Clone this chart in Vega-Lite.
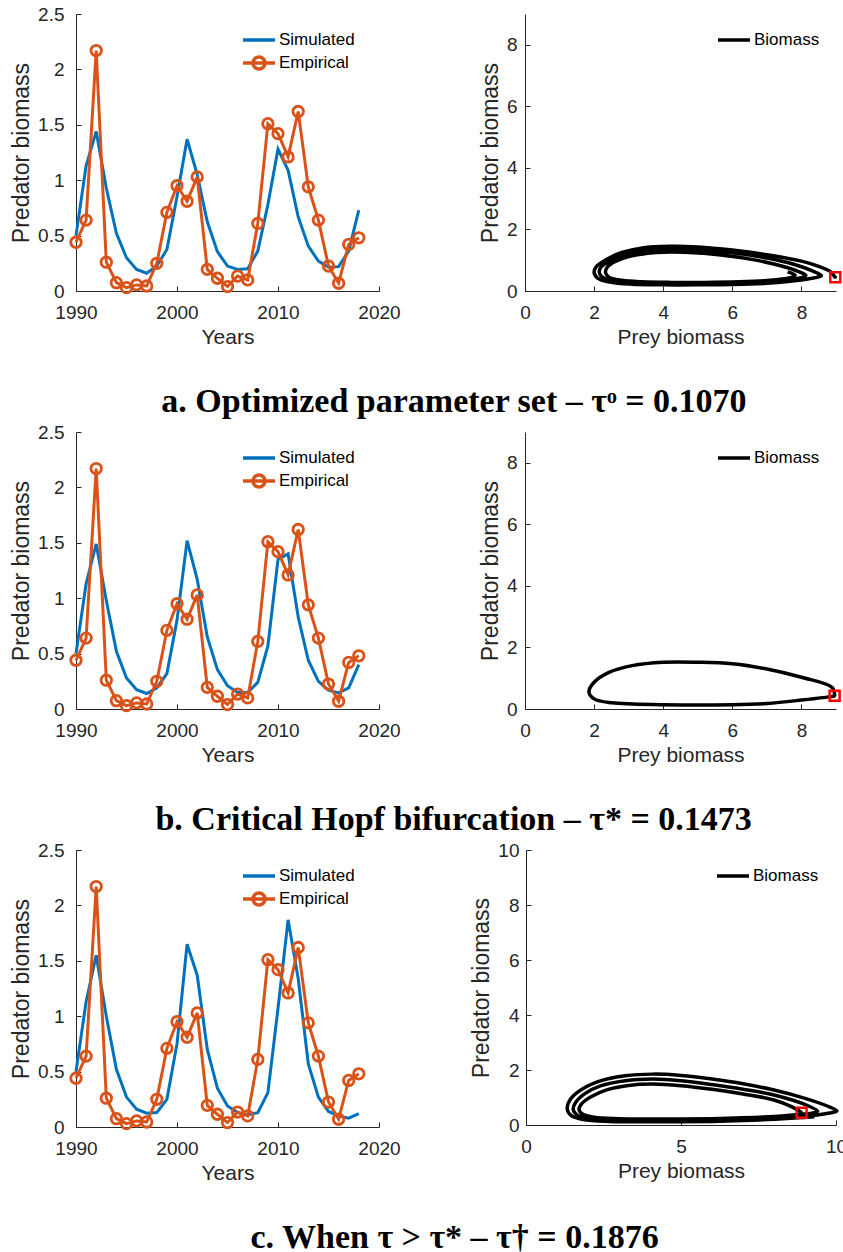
{
  "$schema": "https://vega.github.io/schema/vega-lite/v6.json",
  "background": "white",
  "padding": {"left": 10, "top": 5, "right": 0, "bottom": 0},
  "autosize": {"type": "pad"},
  "config": {
    "view": {"stroke": null},
    "axis": {"labelFont": "Liberation Sans", "titleFont": "Liberation Sans", "labelFontSize": 19, "titleFontWeight": "normal", "labelColor": "#262626", "titleColor": "#262626", "domainColor": "#262626", "tickColor": "#262626", "grid": false, "domainWidth": 1, "tickWidth": 1, "tickSize": -5, "labelFlush": false, "labelFontWeight": "normal", "labelOverlap": false},
    "axisX": {"labelPadding": 17, "titleFontSize": 21, "titlePadding": 4},
    "axisY": {"titleFontSize": 23, "titlePadding": 4},
    "legend": {"labelFont": "Liberation Sans", "labelFontSize": 17, "labelColor": "black", "orient": "none", "title": null, "symbolType": "M-1.6,0L1.6,0", "symbolSize": 400, "symbolStrokeWidth": 3.5, "labelOffset": 8, "rowPadding": 2, "padding": 0, "legendY": 14},
    "title": {"font": "Liberation Serif", "fontSize": 34, "fontWeight": "bold", "color": "black", "orient": "bottom", "anchor": "middle", "frame": "bounds", "offset": 38, "dx": 26}
  },
  "datasets": {
    "emp": [
      {"year": 1990, "value": 0.44, "series": "Empirical"}, {"year": 1991, "value": 0.64, "series": "Empirical"}, {"year": 1992, "value": 2.17, "series": "Empirical"}, {"year": 1993, "value": 0.26, "series": "Empirical"}, {"year": 1994, "value": 0.075, "series": "Empirical"}, {"year": 1995, "value": 0.03, "series": "Empirical"}, {"year": 1996, "value": 0.055, "series": "Empirical"}, {"year": 1997, "value": 0.045, "series": "Empirical"}, {"year": 1998, "value": 0.25, "series": "Empirical"}, {"year": 1999, "value": 0.71, "series": "Empirical"}, {"year": 2000, "value": 0.95, "series": "Empirical"}, {"year": 2001, "value": 0.81, "series": "Empirical"}, {"year": 2002, "value": 1.03, "series": "Empirical"}, {"year": 2003, "value": 0.195, "series": "Empirical"}, {"year": 2004, "value": 0.115, "series": "Empirical"}, {"year": 2005, "value": 0.04, "series": "Empirical"}, {"year": 2006, "value": 0.135, "series": "Empirical"}, {"year": 2007, "value": 0.1, "series": "Empirical"}, {"year": 2008, "value": 0.61, "series": "Empirical"}, {"year": 2009, "value": 1.51, "series": "Empirical"}, {"year": 2010, "value": 1.42, "series": "Empirical"}, {"year": 2011, "value": 1.21, "series": "Empirical"}, {"year": 2012, "value": 1.62, "series": "Empirical"}, {"year": 2013, "value": 0.94, "series": "Empirical"}, {"year": 2014, "value": 0.64, "series": "Empirical"}, {"year": 2015, "value": 0.225, "series": "Empirical"}, {"year": 2016, "value": 0.07, "series": "Empirical"}, {"year": 2017, "value": 0.42, "series": "Empirical"}, {"year": 2018, "value": 0.48, "series": "Empirical"}
    ],
    "simA": [
      {"year": 1990, "value": 0.5, "series": "Simulated"}, {"year": 1991, "value": 1.13, "series": "Simulated"}, {"year": 1992, "value": 1.44, "series": "Simulated"}, {"year": 1993, "value": 0.93, "series": "Simulated"}, {"year": 1994, "value": 0.52, "series": "Simulated"}, {"year": 1995, "value": 0.3, "series": "Simulated"}, {"year": 1996, "value": 0.195, "series": "Simulated"}, {"year": 1997, "value": 0.16, "series": "Simulated"}, {"year": 1998, "value": 0.225, "series": "Simulated"}, {"year": 1999, "value": 0.375, "series": "Simulated"}, {"year": 2000, "value": 0.85, "series": "Simulated"}, {"year": 2001, "value": 1.37, "series": "Simulated"}, {"year": 2002, "value": 1.05, "series": "Simulated"}, {"year": 2003, "value": 0.625, "series": "Simulated"}, {"year": 2004, "value": 0.355, "series": "Simulated"}, {"year": 2005, "value": 0.225, "series": "Simulated"}, {"year": 2006, "value": 0.195, "series": "Simulated"}, {"year": 2007, "value": 0.2, "series": "Simulated"}, {"year": 2008, "value": 0.36, "series": "Simulated"}, {"year": 2009, "value": 0.78, "series": "Simulated"}, {"year": 2010, "value": 1.28, "series": "Simulated"}, {"year": 2011, "value": 1.09, "series": "Simulated"}, {"year": 2012, "value": 0.67, "series": "Simulated"}, {"year": 2013, "value": 0.405, "series": "Simulated"}, {"year": 2014, "value": 0.27, "series": "Simulated"}, {"year": 2015, "value": 0.215, "series": "Simulated"}, {"year": 2016, "value": 0.22, "series": "Simulated"}, {"year": 2017, "value": 0.36, "series": "Simulated"}, {"year": 2018, "value": 0.73, "series": "Simulated"}
    ],
    "simB": [
      {"year": 1990, "value": 0.5, "series": "Simulated"}, {"year": 1991, "value": 1.13, "series": "Simulated"}, {"year": 1992, "value": 1.49, "series": "Simulated"}, {"year": 1993, "value": 0.98, "series": "Simulated"}, {"year": 1994, "value": 0.52, "series": "Simulated"}, {"year": 1995, "value": 0.28, "series": "Simulated"}, {"year": 1996, "value": 0.175, "series": "Simulated"}, {"year": 1997, "value": 0.14, "series": "Simulated"}, {"year": 1998, "value": 0.19, "series": "Simulated"}, {"year": 1999, "value": 0.32, "series": "Simulated"}, {"year": 2000, "value": 0.8, "series": "Simulated"}, {"year": 2001, "value": 1.52, "series": "Simulated"}, {"year": 2002, "value": 1.17, "series": "Simulated"}, {"year": 2003, "value": 0.65, "series": "Simulated"}, {"year": 2004, "value": 0.355, "series": "Simulated"}, {"year": 2005, "value": 0.21, "series": "Simulated"}, {"year": 2006, "value": 0.15, "series": "Simulated"}, {"year": 2007, "value": 0.15, "series": "Simulated"}, {"year": 2008, "value": 0.24, "series": "Simulated"}, {"year": 2009, "value": 0.57, "series": "Simulated"}, {"year": 2010, "value": 1.35, "series": "Simulated"}, {"year": 2011, "value": 1.4, "series": "Simulated"}, {"year": 2012, "value": 0.83, "series": "Simulated"}, {"year": 2013, "value": 0.44, "series": "Simulated"}, {"year": 2014, "value": 0.25, "series": "Simulated"}, {"year": 2015, "value": 0.17, "series": "Simulated"}, {"year": 2016, "value": 0.145, "series": "Simulated"}, {"year": 2017, "value": 0.19, "series": "Simulated"}, {"year": 2018, "value": 0.4, "series": "Simulated"}
    ],
    "simC": [
      {"year": 1990, "value": 0.5, "series": "Simulated"}, {"year": 1991, "value": 1.13, "series": "Simulated"}, {"year": 1992, "value": 1.55, "series": "Simulated"}, {"year": 1993, "value": 1.0, "series": "Simulated"}, {"year": 1994, "value": 0.52, "series": "Simulated"}, {"year": 1995, "value": 0.27, "series": "Simulated"}, {"year": 1996, "value": 0.16, "series": "Simulated"}, {"year": 1997, "value": 0.125, "series": "Simulated"}, {"year": 1998, "value": 0.13, "series": "Simulated"}, {"year": 1999, "value": 0.25, "series": "Simulated"}, {"year": 2000, "value": 0.75, "series": "Simulated"}, {"year": 2001, "value": 1.65, "series": "Simulated"}, {"year": 2002, "value": 1.37, "series": "Simulated"}, {"year": 2003, "value": 0.7, "series": "Simulated"}, {"year": 2004, "value": 0.35, "series": "Simulated"}, {"year": 2005, "value": 0.19, "series": "Simulated"}, {"year": 2006, "value": 0.13, "series": "Simulated"}, {"year": 2007, "value": 0.11, "series": "Simulated"}, {"year": 2008, "value": 0.13, "series": "Simulated"}, {"year": 2009, "value": 0.31, "series": "Simulated"}, {"year": 2010, "value": 1.07, "series": "Simulated"}, {"year": 2011, "value": 1.87, "series": "Simulated"}, {"year": 2012, "value": 1.34, "series": "Simulated"}, {"year": 2013, "value": 0.57, "series": "Simulated"}, {"year": 2014, "value": 0.27, "series": "Simulated"}, {"year": 2015, "value": 0.14, "series": "Simulated"}, {"year": 2016, "value": 0.1, "series": "Simulated"}, {"year": 2017, "value": 0.08, "series": "Simulated"}, {"year": 2018, "value": 0.12, "series": "Simulated"}
    ],
    "phaseA": [
      {"i": 0, "prey": 8.98, "pred": 0.43, "series": "Biomass"}, {"i": 1, "prey": 8.85, "pred": 0.62, "series": "Biomass"}, {"i": 2, "prey": 8.5, "pred": 0.8, "series": "Biomass"}, {"i": 3, "prey": 8.0, "pred": 0.97, "series": "Biomass"}, {"i": 4, "prey": 7.0, "pred": 1.18, "series": "Biomass"}, {"i": 5, "prey": 6.0, "pred": 1.33, "series": "Biomass"}, {"i": 6, "prey": 5.0, "pred": 1.43, "series": "Biomass"}, {"i": 7, "prey": 4.2, "pred": 1.45, "series": "Biomass"}, {"i": 8, "prey": 3.4, "pred": 1.4, "series": "Biomass"}, {"i": 9, "prey": 2.8, "pred": 1.25, "series": "Biomass"}, {"i": 10, "prey": 2.35, "pred": 1.02, "series": "Biomass"}, {"i": 11, "prey": 2.07, "pred": 0.8, "series": "Biomass"}, {"i": 12, "prey": 2.0, "pred": 0.6, "series": "Biomass"}, {"i": 13, "prey": 2.1, "pred": 0.42, "series": "Biomass"}, {"i": 14, "prey": 2.45, "pred": 0.29, "series": "Biomass"}, {"i": 15, "prey": 3.1, "pred": 0.22, "series": "Biomass"}, {"i": 16, "prey": 4.0, "pred": 0.2, "series": "Biomass"}, {"i": 17, "prey": 5.0, "pred": 0.2, "series": "Biomass"}, {"i": 18, "prey": 6.0, "pred": 0.21, "series": "Biomass"}, {"i": 19, "prey": 7.0, "pred": 0.25, "series": "Biomass"}, {"i": 20, "prey": 7.8, "pred": 0.33, "series": "Biomass"}, {"i": 21, "prey": 8.35, "pred": 0.42, "series": "Biomass"}, {"i": 22, "prey": 8.58, "pred": 0.5, "series": "Biomass"},
      {"i": 23, "prey": 8.3, "pred": 0.66, "series": "Biomass"}, {"i": 24, "prey": 7.8, "pred": 0.86, "series": "Biomass"}, {"i": 25, "prey": 7.0, "pred": 1.07, "series": "Biomass"}, {"i": 26, "prey": 6.0, "pred": 1.24, "series": "Biomass"}, {"i": 27, "prey": 5.0, "pred": 1.34, "series": "Biomass"}, {"i": 28, "prey": 4.3, "pred": 1.36, "series": "Biomass"}, {"i": 29, "prey": 3.5, "pred": 1.32, "series": "Biomass"}, {"i": 30, "prey": 2.9, "pred": 1.18, "series": "Biomass"}, {"i": 31, "prey": 2.45, "pred": 0.97, "series": "Biomass"}, {"i": 32, "prey": 2.2, "pred": 0.78, "series": "Biomass"}, {"i": 33, "prey": 2.15, "pred": 0.6, "series": "Biomass"}, {"i": 34, "prey": 2.25, "pred": 0.44, "series": "Biomass"}, {"i": 35, "prey": 2.6, "pred": 0.32, "series": "Biomass"}, {"i": 36, "prey": 3.2, "pred": 0.26, "series": "Biomass"}, {"i": 37, "prey": 4.0, "pred": 0.24, "series": "Biomass"}, {"i": 38, "prey": 5.0, "pred": 0.24, "series": "Biomass"}, {"i": 39, "prey": 6.0, "pred": 0.26, "series": "Biomass"}, {"i": 40, "prey": 7.0, "pred": 0.3, "series": "Biomass"}, {"i": 41, "prey": 7.7, "pred": 0.37, "series": "Biomass"}, {"i": 42, "prey": 8.05, "pred": 0.45, "series": "Biomass"}, {"i": 43, "prey": 8.13, "pred": 0.51, "series": "Biomass"},
      {"i": 44, "prey": 7.9, "pred": 0.64, "series": "Biomass"}, {"i": 45, "prey": 7.4, "pred": 0.82, "series": "Biomass"}, {"i": 46, "prey": 6.6, "pred": 1.02, "series": "Biomass"}, {"i": 47, "prey": 5.6, "pred": 1.18, "series": "Biomass"}, {"i": 48, "prey": 4.6, "pred": 1.26, "series": "Biomass"}, {"i": 49, "prey": 3.8, "pred": 1.25, "series": "Biomass"}, {"i": 50, "prey": 3.1, "pred": 1.14, "series": "Biomass"}, {"i": 51, "prey": 2.6, "pred": 0.95, "series": "Biomass"}, {"i": 52, "prey": 2.38, "pred": 0.77, "series": "Biomass"}, {"i": 53, "prey": 2.33, "pred": 0.6, "series": "Biomass"}, {"i": 54, "prey": 2.43, "pred": 0.45, "series": "Biomass"}, {"i": 55, "prey": 2.8, "pred": 0.35, "series": "Biomass"}, {"i": 56, "prey": 3.4, "pred": 0.3, "series": "Biomass"}, {"i": 57, "prey": 4.2, "pred": 0.28, "series": "Biomass"}, {"i": 58, "prey": 5.2, "pred": 0.28, "series": "Biomass"}, {"i": 59, "prey": 6.2, "pred": 0.3, "series": "Biomass"}, {"i": 60, "prey": 7.0, "pred": 0.34, "series": "Biomass"}, {"i": 61, "prey": 7.5, "pred": 0.4, "series": "Biomass"}, {"i": 62, "prey": 7.77, "pred": 0.46, "series": "Biomass"}, {"i": 63, "prey": 7.82, "pred": 0.51, "series": "Biomass"}, {"i": 64, "prey": 7.6, "pred": 0.62, "series": "Biomass"}
    ],
    "phaseB": [
      {"i": 0, "prey": 8.96, "pred": 0.43, "series": "Biomass"}, {"i": 1, "prey": 8.89, "pred": 0.7, "series": "Biomass"}, {"i": 2, "prey": 8.0, "pred": 1.03, "series": "Biomass"}, {"i": 3, "prey": 7.0, "pred": 1.3, "series": "Biomass"}, {"i": 4, "prey": 6.0, "pred": 1.47, "series": "Biomass"}, {"i": 5, "prey": 5.0, "pred": 1.52, "series": "Biomass"}, {"i": 6, "prey": 4.0, "pred": 1.52, "series": "Biomass"}, {"i": 7, "prey": 3.1, "pred": 1.41, "series": "Biomass"}, {"i": 8, "prey": 2.43, "pred": 1.19, "series": "Biomass"}, {"i": 9, "prey": 2.0, "pred": 0.87, "series": "Biomass"}, {"i": 10, "prey": 1.85, "pred": 0.56, "series": "Biomass"}, {"i": 11, "prey": 2.0, "pred": 0.33, "series": "Biomass"}, {"i": 12, "prey": 2.52, "pred": 0.2, "series": "Biomass"}, {"i": 13, "prey": 4.0, "pred": 0.14, "series": "Biomass"}, {"i": 14, "prey": 6.0, "pred": 0.14, "series": "Biomass"}, {"i": 15, "prey": 7.0, "pred": 0.18, "series": "Biomass"}, {"i": 16, "prey": 8.0, "pred": 0.29, "series": "Biomass"}, {"i": 17, "prey": 8.89, "pred": 0.41, "series": "Biomass"}, {"i": 18, "prey": 8.96, "pred": 0.43, "series": "Biomass"}
    ],
    "phaseC": [
      {"i": 0, "prey": 8.89, "pred": 0.45, "series": "Biomass"}, {"i": 1, "prey": 8.6, "pred": 0.65, "series": "Biomass"}, {"i": 2, "prey": 8.0, "pred": 0.91, "series": "Biomass"}, {"i": 3, "prey": 7.0, "pred": 1.13, "series": "Biomass"}, {"i": 4, "prey": 6.0, "pred": 1.3, "series": "Biomass"}, {"i": 5, "prey": 5.0, "pred": 1.43, "series": "Biomass"}, {"i": 6, "prey": 4.1, "pred": 1.49, "series": "Biomass"}, {"i": 7, "prey": 3.3, "pred": 1.44, "series": "Biomass"}, {"i": 8, "prey": 2.6, "pred": 1.28, "series": "Biomass"}, {"i": 9, "prey": 2.1, "pred": 1.03, "series": "Biomass"}, {"i": 10, "prey": 1.8, "pred": 0.78, "series": "Biomass"}, {"i": 11, "prey": 1.71, "pred": 0.57, "series": "Biomass"}, {"i": 12, "prey": 1.82, "pred": 0.4, "series": "Biomass"}, {"i": 13, "prey": 2.2, "pred": 0.28, "series": "Biomass"}, {"i": 14, "prey": 3.0, "pred": 0.23, "series": "Biomass"}, {"i": 15, "prey": 4.0, "pred": 0.22, "series": "Biomass"}, {"i": 16, "prey": 5.0, "pred": 0.22, "series": "Biomass"}, {"i": 17, "prey": 6.0, "pred": 0.23, "series": "Biomass"}, {"i": 18, "prey": 7.0, "pred": 0.26, "series": "Biomass"}, {"i": 19, "prey": 8.0, "pred": 0.31, "series": "Biomass"}, {"i": 20, "prey": 8.9, "pred": 0.39, "series": "Biomass"}, {"i": 21, "prey": 9.3, "pred": 0.45, "series": "Biomass"}, {"i": 22, "prey": 9.41, "pred": 0.5, "series": "Biomass"},
      {"i": 23, "prey": 9.1, "pred": 0.7, "series": "Biomass"}, {"i": 24, "prey": 8.0, "pred": 1.09, "series": "Biomass"}, {"i": 25, "prey": 7.0, "pred": 1.3, "series": "Biomass"}, {"i": 26, "prey": 6.0, "pred": 1.47, "series": "Biomass"}, {"i": 27, "prey": 5.0, "pred": 1.61, "series": "Biomass"}, {"i": 28, "prey": 4.1, "pred": 1.67, "series": "Biomass"}, {"i": 29, "prey": 3.2, "pred": 1.61, "series": "Biomass"}, {"i": 30, "prey": 2.4, "pred": 1.42, "series": "Biomass"}, {"i": 31, "prey": 1.9, "pred": 1.14, "series": "Biomass"}, {"i": 32, "prey": 1.6, "pred": 0.82, "series": "Biomass"}, {"i": 33, "prey": 1.52, "pred": 0.57, "series": "Biomass"}, {"i": 34, "prey": 1.63, "pred": 0.38, "series": "Biomass"}, {"i": 35, "prey": 2.0, "pred": 0.24, "series": "Biomass"}, {"i": 36, "prey": 2.8, "pred": 0.18, "series": "Biomass"}, {"i": 37, "prey": 4.0, "pred": 0.17, "series": "Biomass"}, {"i": 38, "prey": 5.0, "pred": 0.17, "series": "Biomass"}, {"i": 39, "prey": 6.0, "pred": 0.18, "series": "Biomass"}, {"i": 40, "prey": 7.0, "pred": 0.21, "series": "Biomass"}, {"i": 41, "prey": 8.0, "pred": 0.26, "series": "Biomass"}, {"i": 42, "prey": 9.0, "pred": 0.32, "series": "Biomass"}, {"i": 43, "prey": 9.7, "pred": 0.42, "series": "Biomass"}, {"i": 44, "prey": 10.03, "pred": 0.51, "series": "Biomass"},
      {"i": 45, "prey": 9.7, "pred": 0.7, "series": "Biomass"}, {"i": 46, "prey": 9.0, "pred": 0.97, "series": "Biomass"}, {"i": 47, "prey": 8.0, "pred": 1.27, "series": "Biomass"}, {"i": 48, "prey": 7.0, "pred": 1.5, "series": "Biomass"}, {"i": 49, "prey": 6.0, "pred": 1.67, "series": "Biomass"}, {"i": 50, "prey": 5.0, "pred": 1.8, "series": "Biomass"}, {"i": 51, "prey": 4.1, "pred": 1.85, "series": "Biomass"}, {"i": 52, "prey": 3.2, "pred": 1.79, "series": "Biomass"}, {"i": 53, "prey": 2.3, "pred": 1.57, "series": "Biomass"}, {"i": 54, "prey": 1.7, "pred": 1.22, "series": "Biomass"}, {"i": 55, "prey": 1.4, "pred": 0.88, "series": "Biomass"}, {"i": 56, "prey": 1.33, "pred": 0.58, "series": "Biomass"}, {"i": 57, "prey": 1.45, "pred": 0.35, "series": "Biomass"}, {"i": 58, "prey": 1.85, "pred": 0.2, "series": "Biomass"}, {"i": 59, "prey": 2.7, "pred": 0.13, "series": "Biomass"}, {"i": 60, "prey": 4.0, "pred": 0.12, "series": "Biomass"}, {"i": 61, "prey": 5.0, "pred": 0.12, "series": "Biomass"}, {"i": 62, "prey": 6.0, "pred": 0.13, "series": "Biomass"}, {"i": 63, "prey": 7.0, "pred": 0.16, "series": "Biomass"}, {"i": 64, "prey": 8.0, "pred": 0.21, "series": "Biomass"}, {"i": 65, "prey": 8.8, "pred": 0.26, "series": "Biomass"}, {"i": 66, "prey": 9.3, "pred": 0.3, "series": "Biomass"}
    ],
    "startA": [{"prey": 8.98, "pred": 0.45}],
    "startB": [{"prey": 8.96, "pred": 0.43}],
    "startC": [{"prey": 8.89, "pred": 0.45}]
  },
  "spacing": 4,
  "vconcat": [
    {
      "title": {"text": "a. Optimized parameter set – τᵒ = 0.1070"},
      "spacing": 78,
      "resolve": {"scale": {"color": "independent"}, "legend": {"color": "independent"}},
      "hconcat": [
        {
          "width": 303, "height": 277,
          "layer": [
            {"data": {"name": "simA"}, "mark": {"type": "line", "strokeWidth": 3},
             "encoding": {
               "x": {"field": "year", "type": "quantitative", "scale": {"domain": [1990, 2020], "nice": false}, "axis": {"values": [1990, 2000, 2010, 2020], "format": "d", "title": "Years"}},
               "y": {"field": "value", "type": "quantitative", "scale": {"domain": [0, 2.5], "nice": false}, "axis": {"values": [0, 0.5, 1, 1.5, 2, 2.5], "format": "~g", "title": "Predator biomass", "labelPadding": 17}},
               "color": {"field": "series", "type": "nominal", "scale": {"domain": ["Simulated", "Empirical"], "range": ["#0072BD", "#D95319"]},
                 "legend": {"legendX": 171, "encode": {"symbols": {"update": {"shape": {"signal": "datum.value === 'Empirical' ? 'M-1.6,0L1.6,0M0.6,0A0.6,0.6,0,1,1,-0.6,0A0.6,0.6,0,1,1,0.6,0' : 'M-1.6,0L1.6,0'"}, "fill": {"value": "transparent"}}}}}}
             }},
            {"data": {"name": "emp"}, "mark": {"type": "line", "strokeWidth": 3, "point": {"filled": false, "size": 110, "strokeWidth": 2.8}},
             "encoding": {
               "x": {"field": "year", "type": "quantitative"},
               "y": {"field": "value", "type": "quantitative"},
               "color": {"field": "series", "type": "nominal"}
             }}
          ]
        },
        {
          "width": 311, "height": 277,
          "layer": [
            {"data": {"name": "phaseA"}, "mark": {"type": "line", "strokeWidth": 3.5, "interpolate": "catmull-rom"},
             "encoding": {
               "x": {"field": "prey", "type": "quantitative", "scale": {"domain": [0, 9], "nice": false}, "axis": {"values": [0, 2, 4, 6, 8], "title": "Prey biomass"}},
               "y": {"field": "pred", "type": "quantitative", "scale": {"domain": [0, 9], "nice": false}, "axis": {"values": [0, 2, 4, 6, 8], "title": "Predator biomass", "labelPadding": 13}},
               "order": {"field": "i", "type": "quantitative"},
               "color": {"field": "series", "type": "nominal", "scale": {"domain": ["Biomass"], "range": ["black"]}, "legend": {"legendX": 197}}
             }},
            {"data": {"name": "startA"}, "mark": {"type": "point", "shape": "square", "filled": false, "color": "#FF0000", "size": 100, "strokeWidth": 2.5, "opacity": 1},
             "encoding": {"x": {"field": "prey", "type": "quantitative"}, "y": {"field": "pred", "type": "quantitative"}}},
            {"data": {"name": "startA"}, "mark": {"type": "point", "shape": "circle", "filled": true, "color": "black", "size": 10, "opacity": 1},
             "encoding": {"x": {"field": "prey", "type": "quantitative"}, "y": {"field": "pred", "type": "quantitative"}}}
          ]
        }
      ]
    },
    {
      "title": {"text": "b. Critical Hopf bifurcation – τ* = 0.1473"},
      "spacing": 78,
      "resolve": {"scale": {"color": "independent"}, "legend": {"color": "independent"}},
      "hconcat": [
        {
          "width": 303, "height": 277,
          "layer": [
            {"data": {"name": "simB"}, "mark": {"type": "line", "strokeWidth": 3},
             "encoding": {
               "x": {"field": "year", "type": "quantitative", "scale": {"domain": [1990, 2020], "nice": false}, "axis": {"values": [1990, 2000, 2010, 2020], "format": "d", "title": "Years"}},
               "y": {"field": "value", "type": "quantitative", "scale": {"domain": [0, 2.5], "nice": false}, "axis": {"values": [0, 0.5, 1, 1.5, 2, 2.5], "format": "~g", "title": "Predator biomass", "labelPadding": 17}},
               "color": {"field": "series", "type": "nominal", "scale": {"domain": ["Simulated", "Empirical"], "range": ["#0072BD", "#D95319"]},
                 "legend": {"legendX": 171, "encode": {"symbols": {"update": {"shape": {"signal": "datum.value === 'Empirical' ? 'M-1.6,0L1.6,0M0.6,0A0.6,0.6,0,1,1,-0.6,0A0.6,0.6,0,1,1,0.6,0' : 'M-1.6,0L1.6,0'"}, "fill": {"value": "transparent"}}}}}}
             }},
            {"data": {"name": "emp"}, "mark": {"type": "line", "strokeWidth": 3, "point": {"filled": false, "size": 110, "strokeWidth": 2.8}},
             "encoding": {
               "x": {"field": "year", "type": "quantitative"},
               "y": {"field": "value", "type": "quantitative"},
               "color": {"field": "series", "type": "nominal"}
             }}
          ]
        },
        {
          "width": 311, "height": 277,
          "layer": [
            {"data": {"name": "phaseB"}, "mark": {"type": "line", "strokeWidth": 3.5, "interpolate": "catmull-rom"},
             "encoding": {
               "x": {"field": "prey", "type": "quantitative", "scale": {"domain": [0, 9], "nice": false}, "axis": {"values": [0, 2, 4, 6, 8], "title": "Prey biomass"}},
               "y": {"field": "pred", "type": "quantitative", "scale": {"domain": [0, 9], "nice": false}, "axis": {"values": [0, 2, 4, 6, 8], "title": "Predator biomass", "labelPadding": 13}},
               "order": {"field": "i", "type": "quantitative"},
               "color": {"field": "series", "type": "nominal", "scale": {"domain": ["Biomass"], "range": ["black"]}, "legend": {"legendX": 197}}
             }},
            {"data": {"name": "startB"}, "mark": {"type": "point", "shape": "square", "filled": false, "color": "#FF0000", "size": 100, "strokeWidth": 2.5, "opacity": 1},
             "encoding": {"x": {"field": "prey", "type": "quantitative"}, "y": {"field": "pred", "type": "quantitative"}}},
            {"data": {"name": "startB"}, "mark": {"type": "point", "shape": "circle", "filled": true, "color": "black", "size": 10, "opacity": 1},
             "encoding": {"x": {"field": "prey", "type": "quantitative"}, "y": {"field": "pred", "type": "quantitative"}}}
          ]
        }
      ]
    },
    {
      "title": {"text": "c. When τ > τ* – τ† = 0.1876"},
      "spacing": 69,
      "resolve": {"scale": {"color": "independent"}, "legend": {"color": "independent"}},
      "hconcat": [
        {
          "width": 303, "height": 277,
          "layer": [
            {"data": {"name": "simC"}, "mark": {"type": "line", "strokeWidth": 3},
             "encoding": {
               "x": {"field": "year", "type": "quantitative", "scale": {"domain": [1990, 2020], "nice": false}, "axis": {"values": [1990, 2000, 2010, 2020], "format": "d", "title": "Years"}},
               "y": {"field": "value", "type": "quantitative", "scale": {"domain": [0, 2.5], "nice": false}, "axis": {"values": [0, 0.5, 1, 1.5, 2, 2.5], "format": "~g", "title": "Predator biomass", "labelPadding": 17}},
               "color": {"field": "series", "type": "nominal", "scale": {"domain": ["Simulated", "Empirical"], "range": ["#0072BD", "#D95319"]},
                 "legend": {"legendX": 171, "encode": {"symbols": {"update": {"shape": {"signal": "datum.value === 'Empirical' ? 'M-1.6,0L1.6,0M0.6,0A0.6,0.6,0,1,1,-0.6,0A0.6,0.6,0,1,1,0.6,0' : 'M-1.6,0L1.6,0'"}, "fill": {"value": "transparent"}}}}}}
             }},
            {"data": {"name": "emp"}, "mark": {"type": "line", "strokeWidth": 3, "point": {"filled": false, "size": 110, "strokeWidth": 2.8}},
             "encoding": {
               "x": {"field": "year", "type": "quantitative"},
               "y": {"field": "value", "type": "quantitative"},
               "color": {"field": "series", "type": "nominal"}
             }}
          ]
        },
        {
          "width": 310, "height": 275,
          "layer": [
            {"data": {"name": "phaseC"}, "mark": {"type": "line", "strokeWidth": 3.5, "interpolate": "catmull-rom"},
             "encoding": {
               "x": {"field": "prey", "type": "quantitative", "scale": {"domain": [0, 10], "nice": false}, "axis": {"values": [0, 5, 10], "title": "Prey biomass"}},
               "y": {"field": "pred", "type": "quantitative", "scale": {"domain": [0, 10], "nice": false}, "axis": {"values": [0, 2, 4, 6, 8, 10], "title": "Predator biomass", "labelPadding": 12}},
               "order": {"field": "i", "type": "quantitative"},
               "color": {"field": "series", "type": "nominal", "scale": {"domain": ["Biomass"], "range": ["black"]}, "legend": {"legendX": 195}}
             }},
            {"data": {"name": "startC"}, "mark": {"type": "point", "shape": "square", "filled": false, "color": "#FF0000", "size": 100, "strokeWidth": 2.5, "opacity": 1},
             "encoding": {"x": {"field": "prey", "type": "quantitative"}, "y": {"field": "pred", "type": "quantitative"}}},
            {"data": {"name": "startC"}, "mark": {"type": "point", "shape": "circle", "filled": true, "color": "black", "size": 10, "opacity": 1},
             "encoding": {"x": {"field": "prey", "type": "quantitative"}, "y": {"field": "pred", "type": "quantitative"}}}
          ]
        }
      ]
    }
  ],
  "resolve": {"scale": {"color": "independent"}, "legend": {"color": "independent"}}
}
